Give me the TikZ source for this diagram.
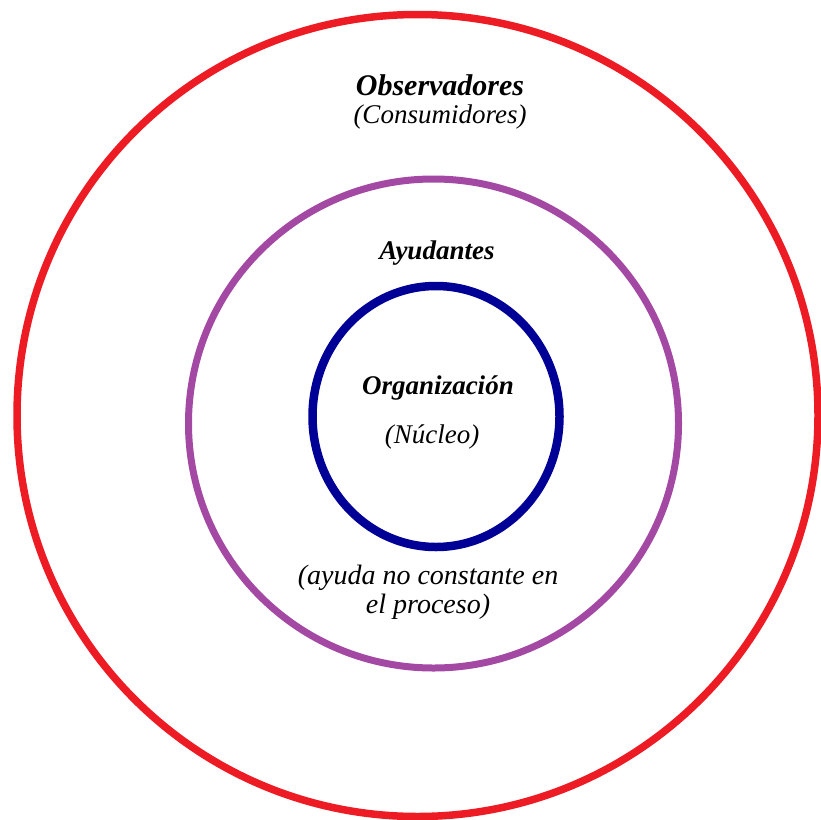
\documentclass[tikz,border=0pt]{standalone}
\usepackage{fontspec}
\setmainfont{Liberation Serif}
\definecolor{ringred}{RGB}{237,28,36}
\definecolor{ringpurple}{RGB}{163,73,164}
\definecolor{ringblue}{RGB}{0,0,150}
\begin{document}
\begin{tikzpicture}[x=1pt,y=-1pt,
  every text node part/.style={align=center},
  lbl/.style={font=\fontsize{27}{31}\selectfont\itshape, inner sep=0pt},
  lblb/.style={lbl, font=\fontsize{27}{31}\selectfont\bfseries\itshape}]
  \useasboundingbox (0,0) rectangle (821,819);
  \draw[ringred, line width=7.5pt] (417.5,415.5) ellipse [x radius=400.5, y radius=401];
  \draw[ringpurple, line width=7pt] (433.5,423.5) ellipse [x radius=245, y radius=244.5];
  \draw[ringblue, line width=8.5pt] (436,416.5) ellipse [x radius=123.5, y radius=130.5];

  \node[lblb, font=\fontsize{30}{34}\selectfont\bfseries\itshape] (obs) at (440,85) {Observadores};
  \node[lbl] (cons) at (440,117) {(Consumidores)};
  \node[lblb] (ayu) at (437,253) {Ayudantes};
  \node[lblb] (org) at (438,388) {Organización};
  \node[lbl] (nuc) at (432,437) {(Núcleo)};
  \node[lbl, font=\fontsize{28}{29}\selectfont\itshape] (nota) at (428,592) {(ayuda no constante en\\el proceso)};
\end{tikzpicture}
\end{document}
